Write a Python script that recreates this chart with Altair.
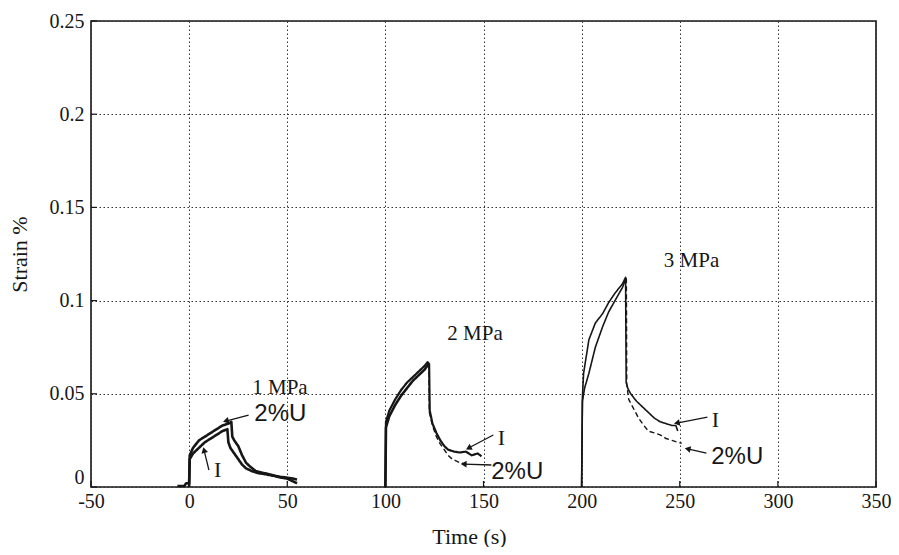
import math
import altair as alt
import pandas as pd

# ---------------- data ----------------
# 1 MPa, curve "I"
t_1_i = [-6, -2.5, -1.5, 0, 0.3, 2, 5, 8, 11, 14, 17, 19.5, 20, 21, 23, 25, 27, 29, 32, 35, 39, 43, 47, 50, 53, 55]
y_1_i = [0.0005, 0.0005, 0.002, 0.002, 0.015, 0.018, 0.021, 0.024, 0.026, 0.028, 0.030, 0.031, 0.024, 0.021, 0.018, 0.015, 0.012, 0.010, 0.0085, 0.0075, 0.0068, 0.006, 0.005, 0.0045, 0.003, 0.002]
# 1 MPa, curve "2%U"
t_1_u = [0, 0.3, 2, 5, 8, 11, 14, 17, 20, 21.5, 22, 23, 25, 27, 29, 31, 34, 38, 42, 46, 50, 53, 55]
y_1_u = [0.0, 0.017, 0.021, 0.025, 0.027, 0.029, 0.031, 0.033, 0.034, 0.035, 0.027, 0.025, 0.022, 0.017, 0.013, 0.011, 0.0085, 0.0075, 0.0065, 0.0055, 0.005, 0.0045, 0.004]
# 2 MPa, curve "I"
t_2_i = [99.8, 100, 100.3, 102, 105, 108, 111, 114, 117, 120, 121.5, 122.3, 122.6, 124, 126, 128, 130, 132, 135, 138, 141, 144, 147, 149]
y_2_i = [0.0, 0.0, 0.035, 0.041, 0.047, 0.052, 0.056, 0.059, 0.062, 0.065, 0.067, 0.066, 0.041, 0.034, 0.029, 0.025, 0.022, 0.020, 0.019, 0.0185, 0.019, 0.017, 0.018, 0.0165]
# 2 MPa, curve "2%U" (loading part, solid)
t_2_ul = [100, 100.3, 102, 105, 108, 111, 114, 117, 120, 122]
y_2_ul = [0.0, 0.032, 0.038, 0.044, 0.049, 0.053, 0.057, 0.060, 0.063, 0.066]
# 2 MPa, curve "2%U" (unloading part, dashed)
t_2_uu = [122.2, 122.4, 124, 126, 128, 130, 132, 134, 136, 138, 140, 142]
y_2_uu = [0.066, 0.040, 0.033, 0.027, 0.023, 0.020, 0.017, 0.015, 0.014, 0.013, 0.0125, 0.012]
# 3 MPa, curve "I"
t_3_i = [200, 200.4, 201, 203.7, 207, 210.7, 213.8, 217, 220.8, 222.4, 222.7, 223.5, 225, 228, 231, 234, 237, 240, 243, 246, 248, 249]
y_3_i = [0.0, 0.048, 0.061, 0.079, 0.088, 0.093, 0.099, 0.104, 0.109, 0.1125, 0.056, 0.053, 0.050, 0.046, 0.043, 0.040, 0.037, 0.035, 0.034, 0.033, 0.033, 0.030]
# 3 MPa, curve "2%U" (loading part, solid)
t_3_ul = [200, 200.4, 201.5, 203.7, 207, 210.7, 213.8, 217, 220.8, 222.6]
y_3_ul = [0.0, 0.046, 0.053, 0.061, 0.075, 0.086, 0.094, 0.100, 0.107, 0.112]
# 3 MPa, curve "2%U" (unloading part, dashed)
t_3_uu = [222.8, 223.0, 224, 225.5, 227.5, 229, 231, 234, 237, 240, 243, 246, 249, 251]
y_3_uu = [0.112, 0.055, 0.047, 0.044, 0.040, 0.037, 0.034, 0.030, 0.029, 0.028, 0.026, 0.025, 0.024, 0.0235]

segments = [
    ("1_i", "solid", 2.6, t_1_i, y_1_i),
    ("1_u", "solid", 2.6, t_1_u, y_1_u),
    ("2_i", "solid", 2.2, t_2_i, y_2_i),
    ("2_ul", "solid", 2.6, t_2_ul, y_2_ul),
    ("2_uu", "dashed", 1.4, t_2_uu, y_2_uu),
    ("3_i", "solid", 1.6, t_3_i, y_3_i),
    ("3_ul", "solid", 1.6, t_3_ul, y_3_ul),
    ("3_uu", "dashed", 1.4, t_3_uu, y_3_uu),
]

rows = []
for name, style, w, ts, ys in segments:
    for k, (t, y) in enumerate(zip(ts, ys)):
        rows.append({"t": t, "y": y, "seg": name, "style": style, "w": w, "order": k})
curves = pd.DataFrame(rows)

# annotation text
serif_text = ["1 MPa", "2 MPa", "3 MPa", "I", "I", "I"]
serif_t = [46.3, 145.7, 256.0, 14.6, 159.1, 268.2]
serif_y = [0.0530, 0.0821, 0.1212, 0.0089, 0.0265, 0.0359]
serif_size = [21, 21, 21, 22, 22, 22]
sans_text = ["2%U", "2%U", "2%U"]
sans_t = [46.5, 167.2, 279.3]
sans_y = [0.0390, 0.0083, 0.0161]

# annotation arrows: tail (near label) -> head (on curve)
arr_t1 = [30.3, 10.1, 155.0, 154.0, 264.1, 263.6]
arr_y1 = [0.0386, 0.0091, 0.0279, 0.0118, 0.0375, 0.0182]
arr_t2 = [18.7, 7.6, 142.4, 139.9, 248.5, 254.0]
arr_y2 = [0.0354, 0.0198, 0.0209, 0.0123, 0.0343, 0.0204]

x_ticks = [-50, 0, 50, 100, 150, 200, 250, 300, 350]
y_ticks = [0, 0.05, 0.1, 0.15, 0.2, 0.25]

# ---------------- chart ----------------
W, H = 785, 466
XD = [-50, 350]
YD = [0, 0.25]
FONT = "Liberation Serif"
INK = "#161616"

xs = alt.Scale(domain=XD, nice=False, zero=False)
ys = alt.Scale(domain=YD, nice=False)

x_axis = alt.Axis(values=x_ticks, title="Time (s)", grid=True, ticks=False,
                  labelExpr="'' + datum.value",
                  labelFont=FONT, labelFontSize=20, labelColor=INK,
                  titleFont=FONT, titleFontSize=22, titleFontWeight="normal",
                  titleColor=INK, titlePadding=15, labelPadding=4,
                  titleX=378, titleAnchor="start", titleAlign="center",
                  domain=False, labelFlush=False)
y_axis = alt.Axis(values=y_ticks, title="Strain %", grid=True, ticks=False,
                  labelExpr="datum.value == 0 ? '0' : format(datum.value, '.2~f')",
                  labelBaseline=alt.expr("datum.value == 0 ? 'bottom' : 'middle'"),
                  labelFont=FONT, labelFontSize=20, labelColor=INK,
                  titleFont=FONT, titleFontSize=22, titleFontWeight="normal",
                  titleColor=INK, titlePadding=18, labelPadding=7,
                  domain=False, labelFlush=False)

lines = alt.Chart(curves).mark_line(color=INK, strokeCap="butt", strokeJoin="round").encode(
    x=alt.X("t:Q", scale=xs, axis=x_axis),
    y=alt.Y("y:Q", scale=ys, axis=y_axis),
    detail="seg:N",
    order="order:Q",
    strokeDash=alt.StrokeDash("style:N", scale=alt.Scale(domain=["solid", "dashed"], range=[[1, 0], [5, 3]]), legend=None),
    strokeWidth=alt.StrokeWidth("w:Q", scale=None, legend=None),
)

serif_df = pd.DataFrame({"txt": serif_text, "t": serif_t, "y": serif_y, "s": serif_size})
serif_layer = alt.Chart(serif_df).mark_text(font=FONT, color=INK, align="center", baseline="middle").encode(
    x=alt.X("t:Q", scale=xs), y=alt.Y("y:Q", scale=ys), text="txt:N",
    size=alt.Size("s:Q", scale=None, legend=None))

sans_df = pd.DataFrame({"txt": sans_text, "t": sans_t, "y": sans_y})
sans_layer = alt.Chart(sans_df).mark_text(font="Liberation Sans", fontSize=24, color=INK,
                                          align="center", baseline="middle").encode(
    x=alt.X("t:Q", scale=xs), y=alt.Y("y:Q", scale=ys), text="txt:N")

px_x = W / (XD[1] - XD[0])
px_y = H / (YD[1] - YD[0])
angles = []
for a1, b1, a2, b2 in zip(arr_t1, arr_y1, arr_t2, arr_y2):
    dx = (a2 - a1) * px_x
    dy = -(b2 - b1) * px_y
    angles.append(math.degrees(math.atan2(dx, -dy)) % 360)
arr_df = pd.DataFrame({"t1": arr_t1, "y1": arr_y1, "t2": arr_t2, "y2": arr_y2, "ang": angles})

arrow_lines = alt.Chart(arr_df).mark_rule(color=INK, strokeWidth=1.3).encode(
    x=alt.X("t1:Q", scale=xs), y=alt.Y("y1:Q", scale=ys), x2="t2:Q", y2="y2:Q")
arrow_heads = alt.Chart(arr_df).mark_point(shape="triangle-up", filled=True, color=INK,
                                           size=45, opacity=1).encode(
    x=alt.X("t2:Q", scale=xs), y=alt.Y("y2:Q", scale=ys),
    angle=alt.Angle("ang:Q", scale=None))

# inward tick marks (MATLAB style)
xt_df = pd.DataFrame({"v": x_ticks})
yt_df = pd.DataFrame({"v": y_ticks})
x_tickmarks = alt.Chart(xt_df).mark_rule(color=INK, strokeWidth=1.2).encode(
    x=alt.X("v:Q", scale=xs), y=alt.value(H), y2=alt.value(H - 6))
y_tickmarks = alt.Chart(yt_df).mark_rule(color=INK, strokeWidth=1.2).encode(
    y=alt.Y("v:Q", scale=ys), x=alt.value(0), x2=alt.value(6))

chart = alt.layer(
    lines, arrow_lines, arrow_heads, serif_layer, sans_layer, x_tickmarks, y_tickmarks
).properties(
    width=W, height=H,
    autosize=alt.AutoSizeParams(type="none"),
    padding={"left": 83, "top": 13, "right": 15, "bottom": 60},
    background="white",
).configure_view(
    stroke=INK, strokeWidth=1.6
).configure_axis(
    gridColor="#333", gridDash=[1.5, 2.5], gridWidth=1, gridOpacity=1
)

chart.save("out.html", embed_options={"renderer": "svg", "actions": False})
